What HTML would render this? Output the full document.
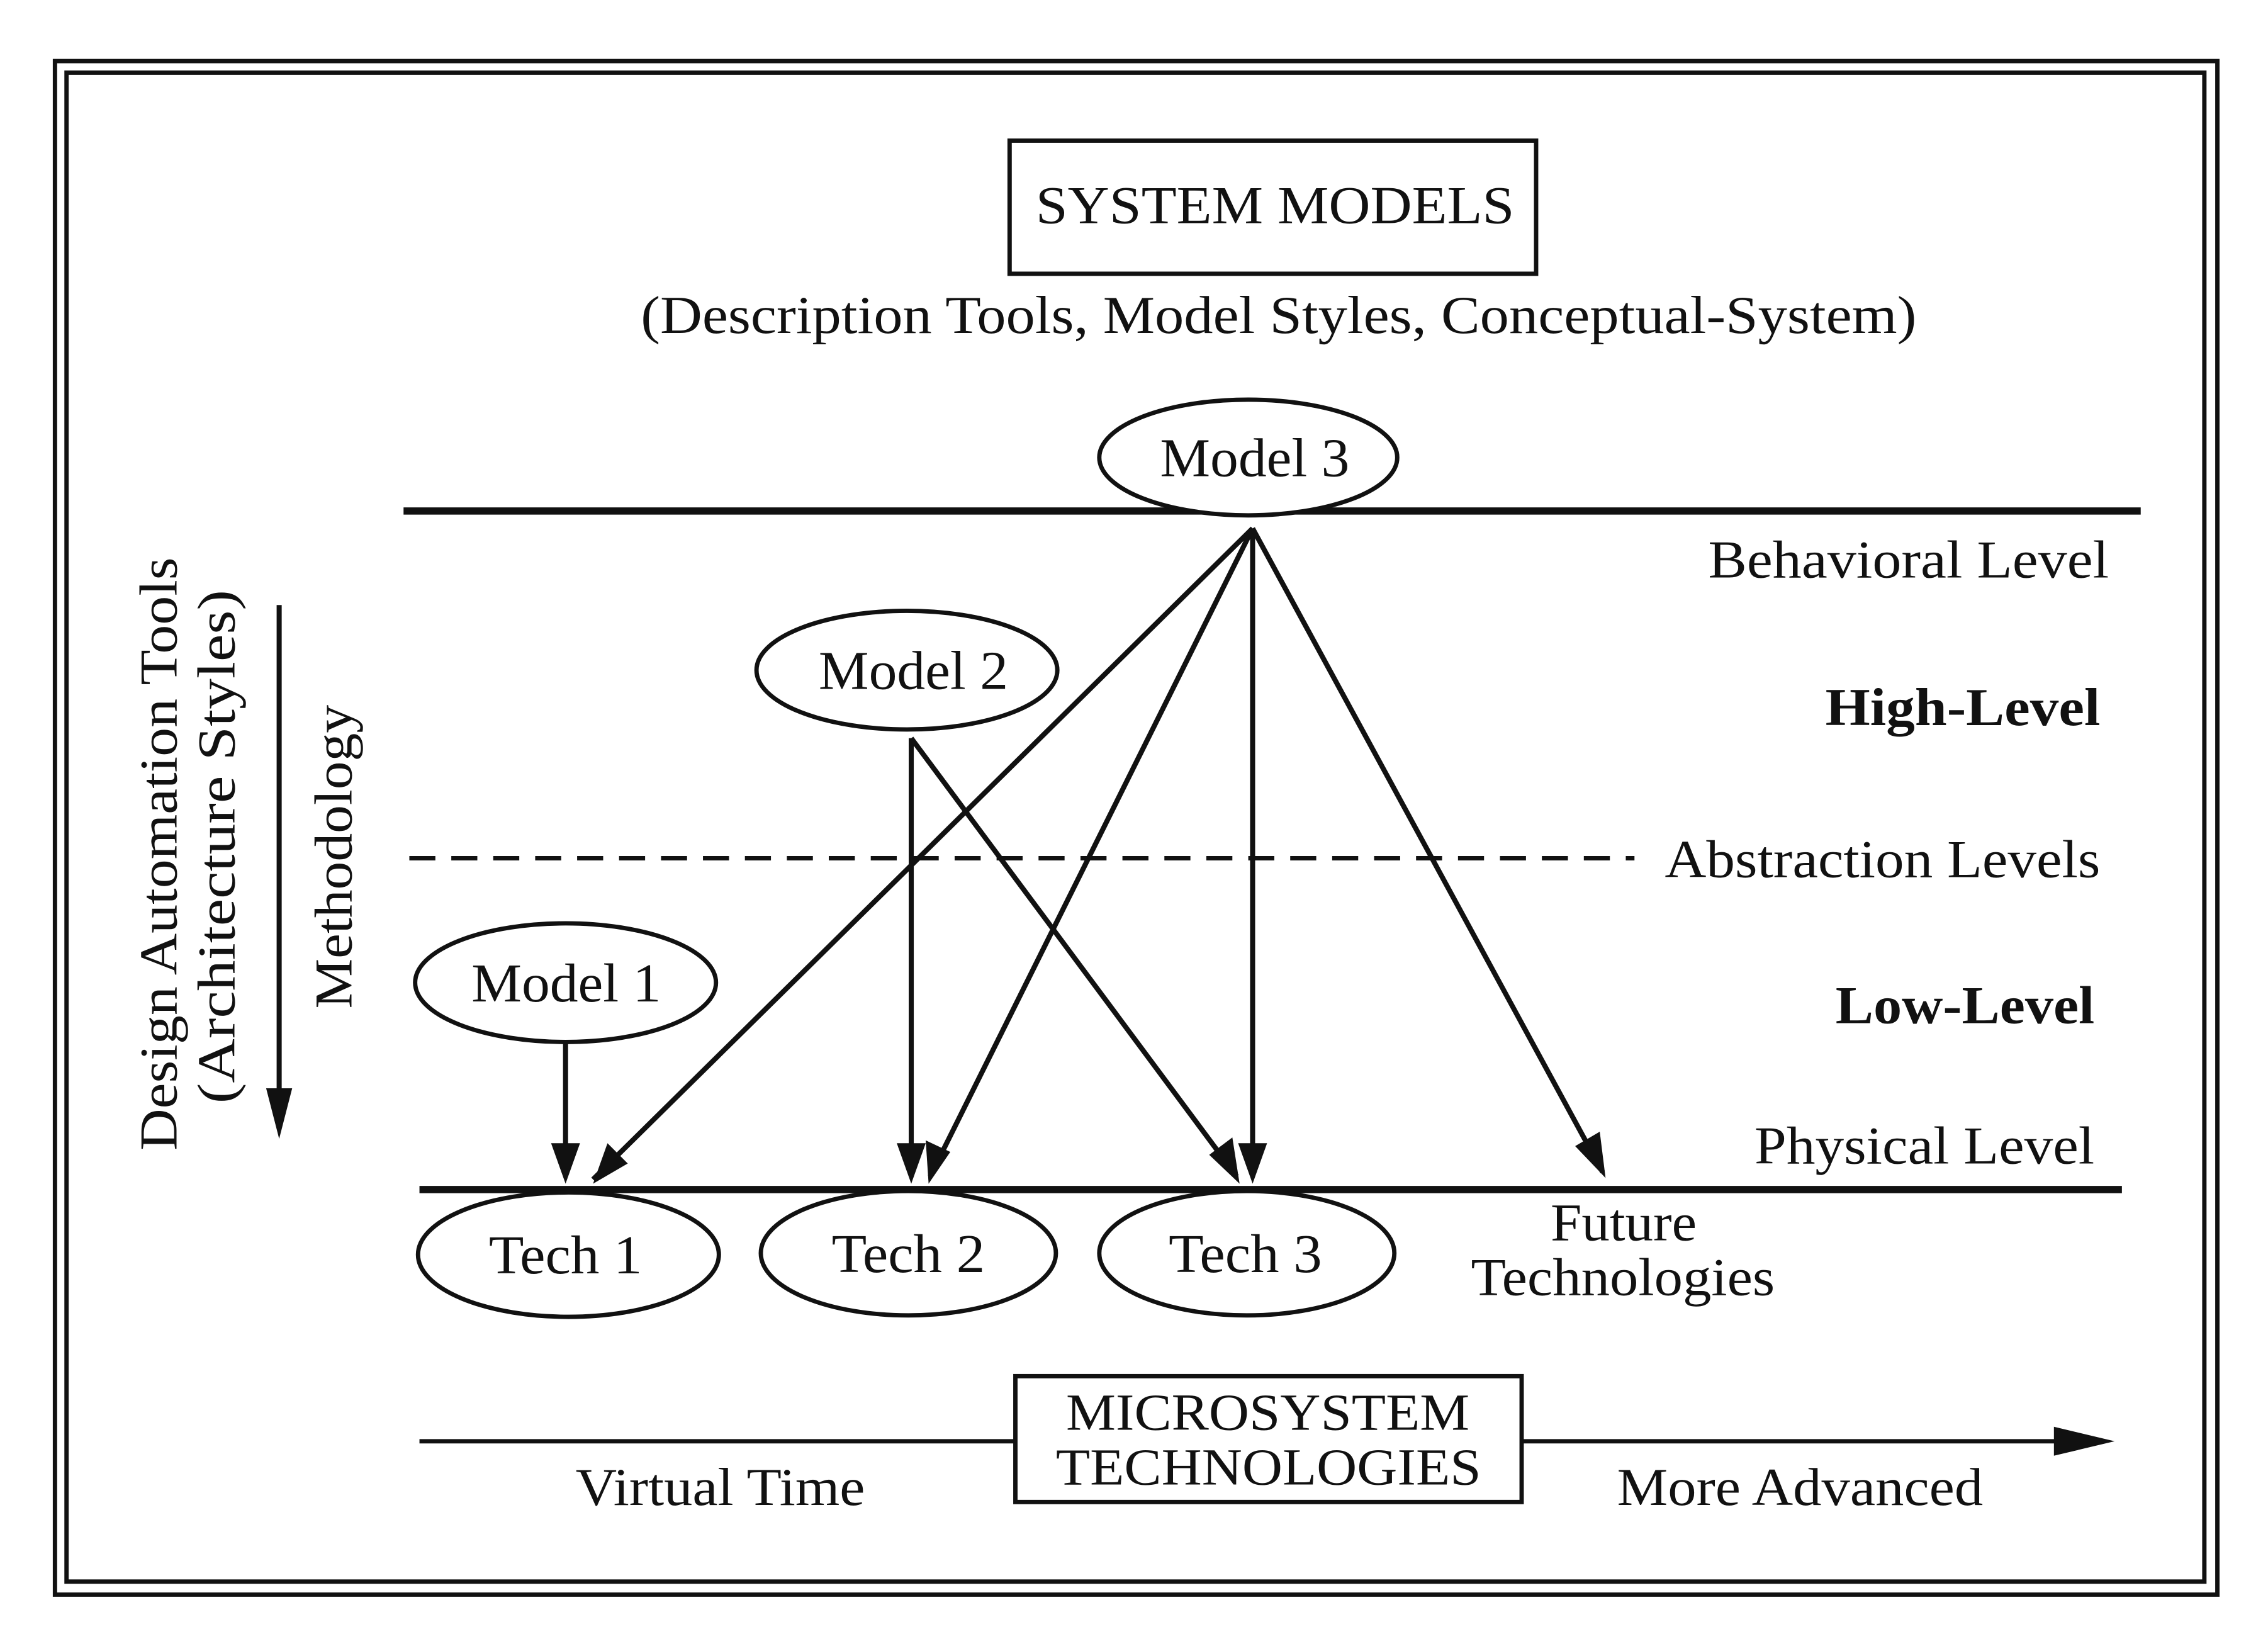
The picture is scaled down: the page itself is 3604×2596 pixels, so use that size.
<!DOCTYPE html>
<html><head><meta charset="utf-8"><style>
html,body{margin:0;padding:0;background:#fff;}
svg{display:block;}
text{font-family:"Liberation Serif",serif;fill:#111;}
</style></head><body>
<svg width="3604" height="2596" viewBox="0 0 1568 1129" xmlns="http://www.w3.org/2000/svg">
<rect x="0" y="0" width="1568" height="1129" fill="#fff"/>
<rect x="38" y="42" width="1495" height="1060" fill="none" stroke="#111" stroke-width="3"/>
<rect x="46" y="50" width="1478" height="1043" fill="none" stroke="#111" stroke-width="3"/>
<rect x="698" y="97" width="364" height="92" fill="none" stroke="#111" stroke-width="3"/>
<text x="716" y="154" font-size="37" textLength="331" lengthAdjust="spacingAndGlyphs">SYSTEM MODELS</text>
<text x="443" y="230" font-size="37" textLength="882" lengthAdjust="spacingAndGlyphs">(Description Tools, Model Styles, Conceptual-System)</text>
<line x1="279" y1="353" x2="1480" y2="353" stroke="#111" stroke-width="5"/>
<line x1="283" y1="593" x2="1130" y2="593" stroke="#111" stroke-width="3" stroke-dasharray="18,11"/>
<line x1="290" y1="822" x2="1467" y2="822" stroke="#111" stroke-width="5"/>
<g font-size="37" lengthAdjust="spacingAndGlyphs">
<text x="1181" y="399" textLength="277" lengthAdjust="spacingAndGlyphs">Behavioral Level</text>
<text x="1262" y="501" font-weight="bold" textLength="190" lengthAdjust="spacingAndGlyphs">High-Level</text>
<text x="1151" y="606" textLength="301" lengthAdjust="spacingAndGlyphs">Abstraction Levels</text>
<text x="1269" y="707" font-weight="bold" textLength="179" lengthAdjust="spacingAndGlyphs">Low-Level</text>
<text x="1213" y="804" textLength="235" lengthAdjust="spacingAndGlyphs">Physical Level</text>
</g>
<g stroke="#111" stroke-width="3.5" fill="none">
<line x1="866" y1="365" x2="410" y2="815"/>
<line x1="866" y1="365" x2="643" y2="813"/>
<line x1="866" y1="365" x2="866" y2="813"/>
<line x1="866" y1="365" x2="1108" y2="810"/>
<line x1="630" y1="510" x2="630" y2="813"/>
<line x1="630" y1="510" x2="855" y2="813"/>
<line x1="391" y1="720" x2="391" y2="813"/>
</g>
<g fill="#111">
<polygon points="410,818 420,790 434,804"/>
<polygon points="642,818 640,788 657,796"/>
<polygon points="866,818 856,790 876,790"/>
<polygon points="1110,814 1089,792 1106,782"/>
<polygon points="630,818 620,790 640,790"/>
<polygon points="857,818 836,798 852,786"/>
<polygon points="391,818 381,790 401,790"/>
</g>
<g fill="#fff" stroke="#111" stroke-width="3">
<ellipse cx="863" cy="316" rx="103" ry="40"/>
<ellipse cx="627" cy="463" rx="104" ry="41"/>
<ellipse cx="391" cy="679" rx="104" ry="41"/>
<ellipse cx="393" cy="867" rx="104" ry="43"/>
<ellipse cx="628" cy="866" rx="102" ry="43"/>
<ellipse cx="862" cy="866" rx="102" ry="43"/>
</g>
<g font-size="38">
<text x="802" y="329" textLength="131" lengthAdjust="spacingAndGlyphs">Model 3</text>
<text x="566" y="476" textLength="131" lengthAdjust="spacingAndGlyphs">Model 2</text>
<text x="326" y="692" textLength="131" lengthAdjust="spacingAndGlyphs">Model 1</text>
<text x="338" y="880" textLength="106" lengthAdjust="spacingAndGlyphs">Tech 1</text>
<text x="575" y="879" textLength="106" lengthAdjust="spacingAndGlyphs">Tech 2</text>
<text x="808" y="879" textLength="106" lengthAdjust="spacingAndGlyphs">Tech 3</text>
<text x="1072" y="857" font-size="37" textLength="101" lengthAdjust="spacingAndGlyphs">Future</text>
<text x="1017" y="895" font-size="37" textLength="210" lengthAdjust="spacingAndGlyphs">Technologies</text>
</g>
<text transform="translate(122,590) rotate(-90)" font-size="37" text-anchor="middle" textLength="410" lengthAdjust="spacingAndGlyphs">Design Automation Tools</text>
<text transform="translate(162,585) rotate(-90)" font-size="37" text-anchor="middle" textLength="355" lengthAdjust="spacingAndGlyphs">(Architecture Styles)</text>
<text transform="translate(243,592) rotate(-90)" font-size="37" text-anchor="middle" textLength="210" lengthAdjust="spacingAndGlyphs">Methodology</text>
<line x1="193" y1="418" x2="193" y2="765" stroke="#111" stroke-width="3.5"/>
<polygon points="193,787 184,752 202,752" fill="#111"/>
<line x1="290" y1="996" x2="1430" y2="996" stroke="#111" stroke-width="3"/>
<polygon points="1462,996 1420,986 1420,1006" fill="#111"/>
<rect x="702" y="951" width="350" height="87" fill="#fff" stroke="#111" stroke-width="3"/>
<text x="737" y="988" font-size="36" textLength="279" lengthAdjust="spacingAndGlyphs">MICROSYSTEM</text>
<text x="730" y="1026" font-size="36" textLength="294" lengthAdjust="spacingAndGlyphs">TECHNOLOGIES</text>
<text x="398" y="1040" font-size="37" textLength="200" lengthAdjust="spacingAndGlyphs">Virtual Time</text>
<text x="1118" y="1040" font-size="37" textLength="253" lengthAdjust="spacingAndGlyphs">More Advanced</text>
</svg>
</body></html>
